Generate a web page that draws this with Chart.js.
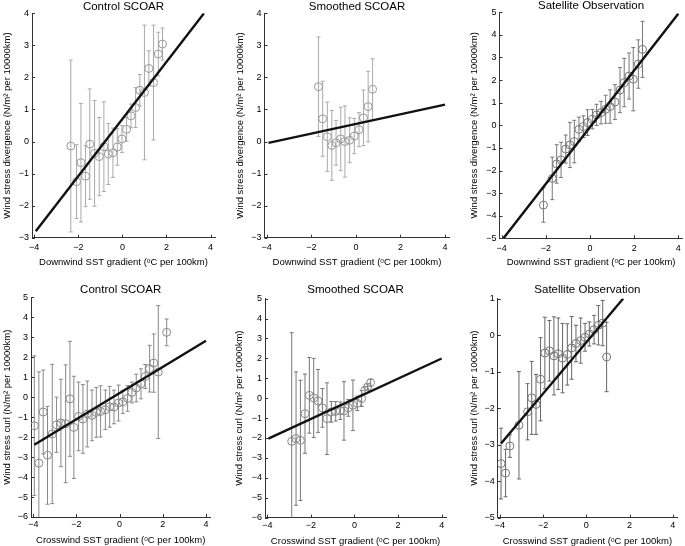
<!DOCTYPE html>
<html><head><meta charset="utf-8">
<script src="https://cdn.jsdelivr.net/npm/chart.js@4.4.0/dist/chart.umd.min.js"></script>
<style>
html,body{margin:0;padding:0;background:#fff;overflow:hidden;width:685px;height:546px;position:relative;}
canvas{position:absolute;}
</style></head><body>
<canvas id="c1"></canvas><canvas id="c2"></canvas><canvas id="c3"></canvas>
<canvas id="c4"></canvas><canvas id="c5"></canvas><canvas id="c6"></canvas>
<script>
// ---------- tick labels ----------
const xTicks = [-4, -2, 0, 2, 4];
const yTicksDiv = [-3, -2, -1, 0, 1, 2, 3, 4];
const yTicksDivSat = [-5, -4, -3, -2, -1, 0, 1, 2, 3, 4, 5];
const yTicksCurl = [-6, -5, -4, -3, -2, -1, 0, 1, 2, 3, 4, 5];
const yTicksCurlSat = [-5, -4, -3, -2, -1, 0, 1];

// ---------- titles / labels ----------
const panelTitles = ['Control SCOAR', 'Smoothed SCOAR', 'Satellite Observation',
                     'Control SCOAR', 'Smoothed SCOAR', 'Satellite Observation'];
const xLabelDown = 'Downwind SST gradient (ᵒC per 100km)';
const xLabelCross = 'Crosswind SST gradient (ᵒC per 100km)';
const yLabelDiv = 'Wind stress divergence (N/m² per 10000km)';
const yLabelCurl = 'Wind stress curl (N/m² per 10000km)';

// ---------- Panel 1: Control SCOAR, downwind ----------
const p1X = [-2.34,-2.08,-1.88,-1.67,-1.48,-1.26,-1.05,-0.84,-0.64,-0.43,-0.23,-0.02,0.19,0.39,0.60,0.79,1.00,1.20,1.41,1.63,1.82];
const p1Y = [-0.14,-1.25,-0.66,-1.08,-0.08,-0.37,-0.47,-0.16,-0.39,-0.35,-0.17,0.08,0.38,0.80,1.06,1.60,1.53,2.28,1.84,2.73,3.04];
const p1E = [2.68,1.15,1.85,0.95,1.72,1.65,1.22,1.40,0.95,0.77,0.57,0.42,0.37,0.37,0.62,0.49,2.10,0.55,1.79,0.68,0.50];
const fit1X = [-3.93, 3.70];
const fit1Y = [-2.80, 4.00];

// ---------- Panel 2: Smoothed SCOAR, downwind ----------
const p2X = [-1.68,-1.49,-1.28,-1.08,-0.89,-0.68,-0.49,-0.28,-0.07,0.14,0.34,0.55,0.75];
const p2Y = [1.71,0.71,0.15,-0.12,-0.04,0.08,0.00,0.04,0.17,0.37,0.74,1.09,1.63];
const p2E = [1.55,1.17,1.08,1.09,0.70,0.99,1.11,0.70,0.55,0.53,0.87,1.10,0.95];
const fit2X = [-3.92, 4.00];
const fit2Y = [-0.04, 1.15];

// ---------- Panel 3: Satellite, downwind ----------
const p3X = [-2.11,-1.71,-1.51,-1.31,-1.10,-0.91,-0.71,-0.50,-0.30,-0.11,0.11,0.30,0.50,0.71,0.91,1.13,1.36,1.55,1.77,1.96,2.19,2.38];
const p3Y = [-3.53,-2.35,-1.71,-1.53,-1.05,-0.87,-0.72,-0.18,-0.06,0.12,0.27,0.46,0.56,0.71,0.83,1.03,1.56,1.89,2.18,2.04,2.71,3.36];
const p3E = [0.76,0.94,0.85,0.78,0.62,1.00,0.94,0.54,0.48,0.57,0.43,0.47,0.50,0.62,0.74,0.77,1.00,1.07,1.02,1.40,1.07,1.24];
const fit3X = [-3.92, 4.00];
const fit3Y = [-5.00, 4.94];

// ---------- Panel 4: Control SCOAR, crosswind ----------
const p4X = [-3.95,-3.74,-3.54,-3.34,-3.12,-2.92,-2.72,-2.50,-2.30,-2.12,-1.90,-1.70,-1.50,-1.28,-1.08,-0.88,-0.66,-0.46,-0.26,-0.05,0.15,0.37,0.57,0.77,0.99,1.19,1.39,1.58,1.79,2.18];
const p4Y = [-1.43,-3.30,-0.74,-2.91,-1.84,-1.38,-1.29,-1.33,-0.08,-1.51,-0.96,-1.09,-0.84,-0.91,-0.76,-0.71,-0.63,-0.48,-0.49,-0.29,-0.23,-0.06,0.24,0.46,0.67,1.04,1.43,1.71,1.26,3.25];
const p4E = [3.50,4.57,2.10,2.45,3.49,1.38,2.19,2.95,2.88,2.56,1.72,1.72,1.65,1.27,1.25,1.28,0.99,1.02,0.84,0.90,0.58,0.64,0.52,0.69,0.75,0.60,1.17,1.46,3.33,0.67];
const fit4X = [-3.95, 4.00];
const fit4Y = [-2.38, 2.83];

// ---------- Panel 5: Smoothed SCOAR, crosswind ----------
const p5X = [-2.88,-2.68,-2.48,-2.27,-2.07,-1.87,-1.67,-1.47,-1.26,-1.06,-0.86,-0.65,-0.48,-0.28,-0.07,0.13,0.33,0.48,0.60,0.74];
const p5Y = [-2.17,-2.03,-2.12,-0.78,0.14,0.01,-0.14,-0.49,-1.03,-0.69,-0.66,-0.63,-0.64,-0.49,-0.36,-0.26,-0.02,0.40,0.56,0.78];
const p5E = [5.46,3.35,3.02,1.99,1.90,1.99,1.58,0.97,1.80,0.52,0.49,0.44,1.47,0.42,1.27,0.36,0.40,0.17,0.15,0.17];
const fit5X = [-3.95, 4.00];
const fit5Y = [-2.03, 1.99];

// ---------- Panel 6: Satellite, crosswind ----------
const p6X = [-3.95,-3.74,-3.54,-3.12,-2.72,-2.53,-2.33,-2.12,-1.92,-1.71,-1.50,-1.30,-1.10,-0.88,-0.68,-0.48,-0.26,-0.06,0.14,0.36,0.56,0.76,0.94];
const p6Y = [-3.52,-3.78,-3.04,-2.47,-2.10,-1.72,-1.90,-1.21,-0.49,-0.43,-0.57,-0.51,-0.63,-0.53,-0.35,-0.23,-0.15,-0.06,0.03,0.15,0.27,0.33,-0.60];
const p6E = [0.97,0.65,0.31,1.47,0.77,1.00,0.82,1.14,0.98,0.83,1.07,0.98,0.95,0.84,0.86,0.50,0.62,0.38,0.33,0.39,0.54,0.62,0.95];
const fit6X = [-3.95, 1.71];
const fit6Y = [-2.97, 1.00];

const FONT = "'Liberation Sans', Arial, Helvetica, sans-serif";
const AXIS = '#333333';
const fmt = (v) => (v < 0 ? '\u2212' + Math.abs(v) : String(v));

function makeChart(id, g, d) {
  const cv = document.getElementById(id);
  cv.width = g.w; cv.height = g.h;
  cv.style.left = g.cl + 'px'; cv.style.top = g.ct + 'px';
  cv.style.width = g.w + 'px'; cv.style.height = g.h + 'px';
  const yW = g.aL - g.cl;
  const xH = g.ct + g.h - g.aB;
  const padR = g.cl + g.w - g.aR;
  const titleH = g.aT - g.ct;
  const labLH = 9.5 * 1.2;
  const yTitlePad = Math.max(0, g.ylabX - g.cl - labLH / 2);
  const xTitlePad = Math.max(0, g.ct + g.h - g.xlabY - labLH / 2);

  const plugin = {
    id: 'errbars',
    beforeDatasetsDraw(chart) {
      const {ctx, chartArea: a, scales: {x, y}} = chart;
      ctx.save();
      ctx.beginPath(); ctx.rect(a.left, a.top, a.right - a.left, a.bottom - a.top); ctx.clip();
      ctx.strokeStyle = d.barColor; ctx.lineWidth = 1;
      ctx.beginPath();
      d.xs.forEach((xv, i) => {
        const px = x.getPixelForValue(xv);
        const pt = y.getPixelForValue(d.ys[i] + d.es[i]);
        const pb = y.getPixelForValue(d.ys[i] - d.es[i]);
        ctx.moveTo(px, pt); ctx.lineTo(px, pb);
        ctx.moveTo(px - 2, pt); ctx.lineTo(px + 2, pt);
        ctx.moveTo(px - 2, pb); ctx.lineTo(px + 2, pb);
      });
      ctx.stroke();
      ctx.restore();
    },
    afterDraw(chart) {
      const {ctx, chartArea: a, scales: {x, y}} = chart;
      ctx.save();
      ctx.strokeStyle = AXIS; ctx.lineWidth = 1;
      ctx.beginPath();
      xTicks.forEach(v => { const px = Math.round(x.getPixelForValue(v)) + 0.5; ctx.moveTo(px, a.bottom); ctx.lineTo(px, a.bottom - 3); });
      d.yTicks.forEach(v => { const py = Math.round(y.getPixelForValue(v)) + 0.5; ctx.moveTo(a.left, py); ctx.lineTo(a.left + 3, py); });
      ctx.stroke();
      ctx.restore();
    }
  };

  return new Chart(cv, {
    type: 'scatter',
    data: {
      datasets: [
        {
          data: d.fitX.map((xv, i) => ({x: xv, y: d.fitY[i]})),
          showLine: true, borderColor: '#111111', borderWidth: 2.4,
          pointRadius: 0, pointHoverRadius: 0, fill: false
        },
        {
          data: d.xs.map((xv, i) => ({x: xv, y: d.ys[i]})),
          pointRadius: 4, pointStyle: 'circle', borderWidth: 1,
          borderColor: d.markColor, backgroundColor: 'rgba(0,0,0,0)',
          pointHoverRadius: 4
        }
      ]
    },
    options: {
      responsive: false, animation: false, events: [],
      devicePixelRatio: 1,
      layout: {padding: {left: 0, top: 0, right: padR, bottom: 0}},
      plugins: {
        legend: {display: false}, tooltip: {enabled: false},
        title: {
          display: true, text: d.title, fullSize: false, color: '#000',
          font: {family: FONT, size: 11.5, weight: 'normal', lineHeight: titleH / 11.5},
          padding: 0
        }
      },
      scales: {
        x: {
          type: 'linear', position: 'bottom', min: -4.1, max: 4.2,
          afterFit(s) { s.height = xH; },
          afterBuildTicks(s) { s.ticks = xTicks.map(v => ({value: v})); },
          ticks: {font: {family: FONT, size: 9}, color: '#000', padding: g.xtp, autoSkip: false, maxRotation: 0, callback: fmt},
          grid: {display: true, drawOnChartArea: false, drawTicks: false},
          border: {display: true, color: AXIS, width: 1},
          title: {display: true, text: d.xlabel, color: '#000', font: {family: FONT, size: 9.5, lineHeight: 1.2}, padding: {top: 0, bottom: xTitlePad}}
        },
        y: {
          type: 'linear', position: 'left', min: d.yMin, max: d.yMax,
          afterFit(s) { s.width = yW; },
          afterBuildTicks(s) { s.ticks = d.yTicks.map(v => ({value: v})); },
          ticks: {font: {family: FONT, size: 9}, color: '#000', padding: 3, autoSkip: false, callback: fmt},
          grid: {display: true, drawOnChartArea: false, drawTicks: false},
          border: {display: true, color: AXIS, width: 1},
          title: {display: true, text: d.ylabel, color: '#000', font: {family: FONT, size: 9.5, lineHeight: 1.2}, padding: {top: yTitlePad, bottom: 0}}
        }
      }
    },
    plugins: [plugin]
  });
}

// geometry (page pixels): canvas box, chart area, label centres
makeChart('c1', {cl: 0, ct: 0, w: 220, h: 270, aL: 32, aR: 215, aT: 13.3, aB: 237.7, ylabX: 7.3, xlabY: 262, xtp: 4.5},
  {title: panelTitles[0], xs: p1X, ys: p1Y, es: p1E, fitX: fit1X, fitY: fit1Y, yMin: -3, yMax: 4, yTicks: yTicksDiv,
   xlabel: xLabelDown, ylabel: yLabelDiv, barColor: '#aaaaaa', markColor: '#999999'});
makeChart('c2', {cl: 232, ct: 0, w: 223, h: 270, aL: 264.5, aR: 449.5, aT: 13.3, aB: 237.7, ylabX: 240, xlabY: 262, xtp: 4.5},
  {title: panelTitles[1], xs: p2X, ys: p2Y, es: p2E, fitX: fit2X, fitY: fit2Y, yMin: -3, yMax: 4, yTicks: yTicksDiv,
   xlabel: xLabelDown, ylabel: yLabelDiv, barColor: '#aaaaaa', markColor: '#999999'});
makeChart('c3', {cl: 466, ct: 0, w: 222, h: 270, aL: 499.5, aR: 682.7, aT: 12.3, aB: 238.3, ylabX: 474, xlabY: 262, xtp: 4.5},
  {title: panelTitles[2], xs: p3X, ys: p3Y, es: p3E, fitX: fit3X, fitY: fit3Y, yMin: -5, yMax: 5, yTicks: yTicksDivSat,
   xlabel: xLabelDown, ylabel: yLabelDiv, barColor: '#777777', markColor: '#777777'});
makeChart('c4', {cl: 0, ct: 282.3, w: 216, h: 264, aL: 31.1, aR: 210.3, aT: 297.7, aB: 517.3, ylabX: 7.3, xlabY: 540.7, xtp: 2.5},
  {title: panelTitles[3], xs: p4X, ys: p4Y, es: p4E, fitX: fit4X, fitY: fit4Y, yMin: -6, yMax: 5, yTicks: yTicksCurl,
   xlabel: xLabelCross, ylabel: yLabelCurl, barColor: '#888888', markColor: '#888888'});
makeChart('c5', {cl: 232, ct: 281.7, w: 219, h: 265, aL: 265.1, aR: 446.1, aT: 298.3, aB: 517.3, ylabX: 239, xlabY: 540.7, xtp: 2.5},
  {title: panelTitles[4], xs: p5X, ys: p5Y, es: p5E, fitX: fit5X, fitY: fit5Y, yMin: -6, yMax: 5, yTicks: yTicksCurl,
   xlabel: xLabelCross, ylabel: yLabelCurl, barColor: '#777777', markColor: '#888888'});
makeChart('c6', {cl: 466, ct: 281.7, w: 219, h: 265, aL: 497.8, aR: 677, aT: 298.3, aB: 517.3, ylabX: 474, xlabY: 540.7, xtp: 2.5},
  {title: panelTitles[5], xs: p6X, ys: p6Y, es: p6E, fitX: fit6X, fitY: fit6Y, yMin: -5, yMax: 1, yTicks: yTicksCurlSat,
   xlabel: xLabelCross, ylabel: yLabelCurl, barColor: '#666666', markColor: '#777777'});
</script>
</body></html>
